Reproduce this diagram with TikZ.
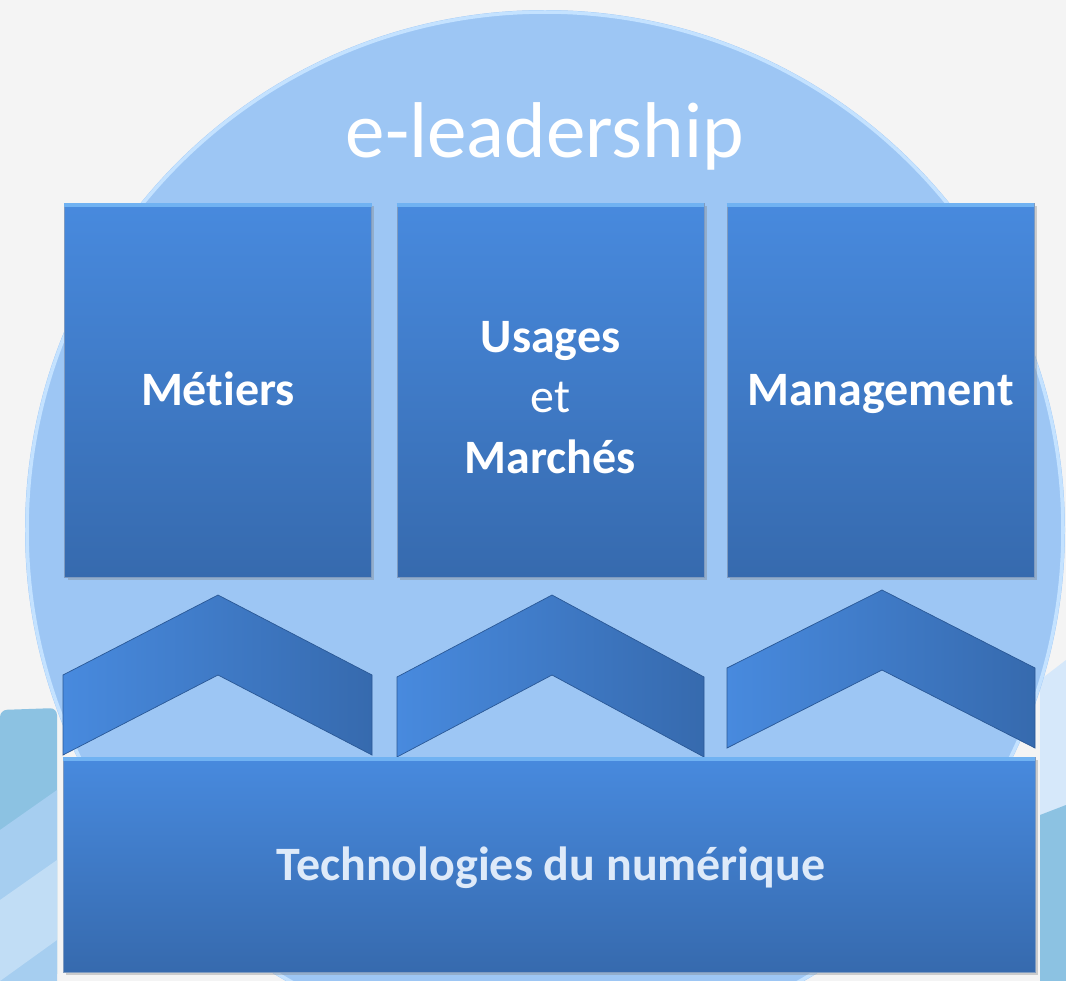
\documentclass[tikz,border=0pt]{standalone}
\usepackage{fontspec}
\setmainfont{Carlito}[Ligatures=NoCommon]
\usepackage{tikz}
\usetikzlibrary{positioning,calc,shadows}
\definecolor{bgGray}{RGB}{244,244,244}
\definecolor{discBlue}{RGB}{157,198,244}
\definecolor{discRim}{RGB}{196,226,255}
\definecolor{boxTop}{RGB}{72,138,222}
\definecolor{boxBot}{RGB}{54,106,174}
\definecolor{boxEdge}{RGB}{42,88,150}
\definecolor{bevel}{RGB}{112,178,242}
\definecolor{swooshDark}{RGB}{140,194,226}
\definecolor{swooshLight}{RGB}{166,206,240}
\definecolor{paleBlue}{RGB}{214,232,250}

\begin{document}
\begin{tikzpicture}[x=0.02cm,y=-0.02cm]
    \tikzset{
        pillar/.style={
            draw=boxEdge!60,
            shading=axis,
            top color=boxTop,
            bottom color=boxBot,
            inner sep=0pt,
            minimum width=6.14cm,
            minimum height=7.48cm,
            drop shadow={opacity=0.35,shadow xshift=0.6mm,shadow yshift=-0.6mm}
        },
        caption/.style={
            text=white,
            font=\bfseries\fontsize{27.3}{34.5}\selectfont,
            align=center,
            inner sep=0pt
        },
        chevron/.style={
            draw=boxEdge,
            shading=axis,
            left color=boxTop,
            right color=boxBot,
            shading angle=90
        }
    }
    \clip (0,0) rectangle (1066,981);

    % background
    \fill[bgGray] (0,0) rectangle (1066,981);
    \fill[swooshDark, rounded corners=4pt] (0,981) -- (0,710) -- (57,708) -- (57,981) -- cycle;
    \fill[swooshLight] (0,830) -- (57,790) -- (57,981) -- (0,981) -- cycle;
    \fill[swooshLight!70!white] (0,900) -- (57,860) -- (57,940) -- (0,981) -- cycle;
    \fill[paleBlue] (1040,680) -- (1066,660) -- (1066,981) -- (1040,981) -- cycle;
    \fill[swooshDark] (1040,815) -- (1066,805) -- (1066,981) -- (1040,981) -- cycle;

    % disc
    \fill[discBlue] (545,530) circle [radius=520];
    \draw[discRim, line width=2pt] (545,530) circle [radius=518];

    % title
    \node[text=white, font=\fontsize{45}{54}\selectfont] (title) at (545,136) {e-leadership};

    % chevrons
    \foreach \xl/\xp/\xr/\ys/\yp in {63/218/372/675/595, 397/552/704/677/595, 727/882/1035/668/590}{
        \draw[chevron]
            (\xl,\ys) -- (\xp,\yp) -- (\xr,\ys) -- (\xr,{\ys+80})
            -- (\xp,{\yp+80}) -- (\xl,{\ys+80}) -- cycle;
    }

    % pillars
    \node[pillar] (metiers) at (218,390) {};
    \node[pillar] (usages) at (550.5,390) {};
    \node[pillar] (management) at (880.5,390) {};

    % base
    \node[pillar, minimum width=19.44cm, minimum height=4.3cm] (techno) at (549,864.5) {};

    \foreach \n in {metiers,usages,management,techno}{
        \draw[bevel, line width=2.5pt] ([yshift=-1.3pt]\n.north west) -- ([yshift=-1.3pt]\n.north east);
    }

    % captions
    \node[caption, anchor=base] (metiersText) at (218,405) {Métiers};
    \node[caption, anchor=base] (usagesText) at (550.5,352) {Usages};
    \node[caption, anchor=base, font=\fontsize{27.3}{34.5}\selectfont] (etText) at (550.5,412) {et};
    \node[caption, anchor=base] (marchesText) at (550.5,473) {Marchés};
    \node[caption, anchor=base] (managementText) at (880.5,405) {Management};
    \node[caption, anchor=base, text=white!82!boxTop] (technoText) at (551,880) {Technologies du numérique};
\end{tikzpicture}
\end{document}
